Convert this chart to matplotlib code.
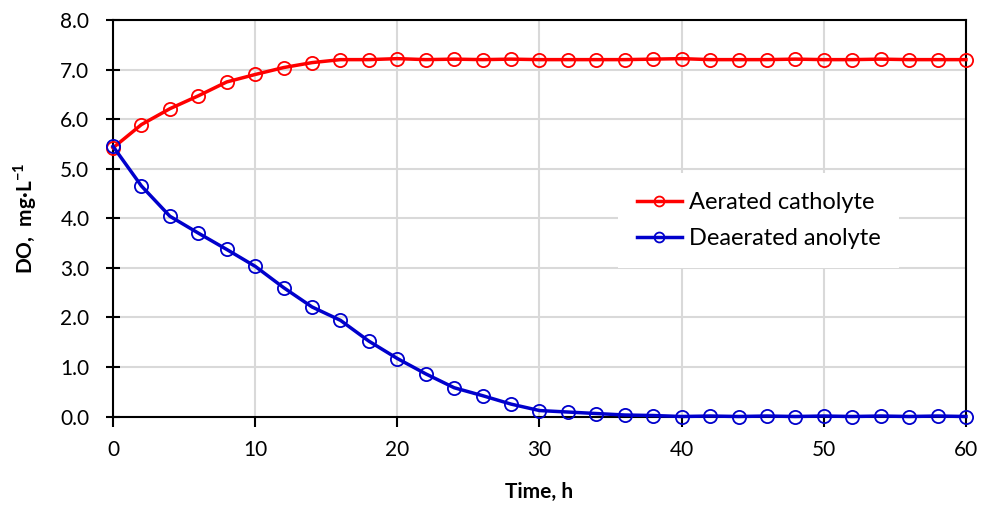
import matplotlib
matplotlib.use("Agg")
import matplotlib.pyplot as plt
from matplotlib.ticker import FormatStrFormatter, MultipleLocator

plt.rcParams['font.family'] = ['Lato', 'DejaVu Sans']
plt.rcParams['mathtext.fontset'] = 'custom'
plt.rcParams['mathtext.rm'] = 'Lato'
plt.rcParams['mathtext.bf'] = 'Lato:bold'

time_h = list(range(0, 61, 2))
aerated_catholyte = [5.42, 5.89, 6.21, 6.47, 6.75, 6.90, 7.04, 7.14, 7.20, 7.20,
                     7.22, 7.20, 7.21, 7.20, 7.21, 7.20, 7.20, 7.20, 7.20, 7.21,
                     7.22, 7.20, 7.20, 7.20, 7.21, 7.20, 7.20, 7.21, 7.20, 7.20, 7.20]
deaerated_anolyte = [5.45, 4.65, 4.04, 3.70, 3.37, 3.03, 2.60, 2.21, 1.94, 1.52,
                     1.17, 0.86, 0.58, 0.42, 0.25, 0.12, 0.09, 0.06, 0.03, 0.02,
                     0.00, 0.01, 0.00, 0.01, 0.00, 0.01, 0.00, 0.01, 0.00, 0.01, 0.00]
series_labels = ['Aerated catholyte', 'Deaerated anolyte']

fig = plt.figure(figsize=(9.88, 5.07), dpi=100)
ax = fig.add_axes([0.1144, 0.1785, 0.8633, 0.7821])

ax.plot(time_h, aerated_catholyte, color='#ff0000', lw=2.5, marker='o', ms=9.5,
        mfc='none', mec='#ff0000', mew=1.3, clip_on=False, zorder=3, label=series_labels[0])
ax.plot(time_h, deaerated_anolyte, color='#0000cc', lw=2.5, marker='o', ms=9.5,
        mfc='none', mec='#0000cc', mew=1.3, clip_on=False, zorder=4, label=series_labels[1])

ax.set_xlim(0, 60)
ax.set_ylim(0, 8)
ax.xaxis.set_major_locator(MultipleLocator(10))
ax.yaxis.set_major_locator(MultipleLocator(1))
ax.yaxis.set_major_formatter(FormatStrFormatter('%.1f'))
ax.grid(True, color='#d9d9d9', lw=1.5, zorder=0)
ax.set_axisbelow(True)
for s in ax.spines.values():
    s.set_color('black')
    s.set_linewidth(1.5)
ax.tick_params(axis='x', direction='out', length=7, width=1.5, labelsize=15, pad=10)
ax.tick_params(axis='y', direction='inout', length=10, width=1.5, labelsize=15, pad=12)

ax.set_xlabel('Time, h', fontsize=15, fontweight='bold', labelpad=16)
ax.set_ylabel(r'DO,  mg·L$^{\mathbf{-1}}$', fontsize=15, fontweight='bold', labelpad=15)

leg = ax.legend(loc='center left', bbox_to_anchor=(0.578, 0.494), fontsize=17,
                frameon=True, facecolor='white', edgecolor='none', framealpha=1,
                handlelength=1.9, handletextpad=0.3, labelspacing=0.65, borderpad=0.8,
                markerscale=0.75, fancybox=False)
leg.set_zorder(5)

fig.savefig('out.png', dpi=100)
